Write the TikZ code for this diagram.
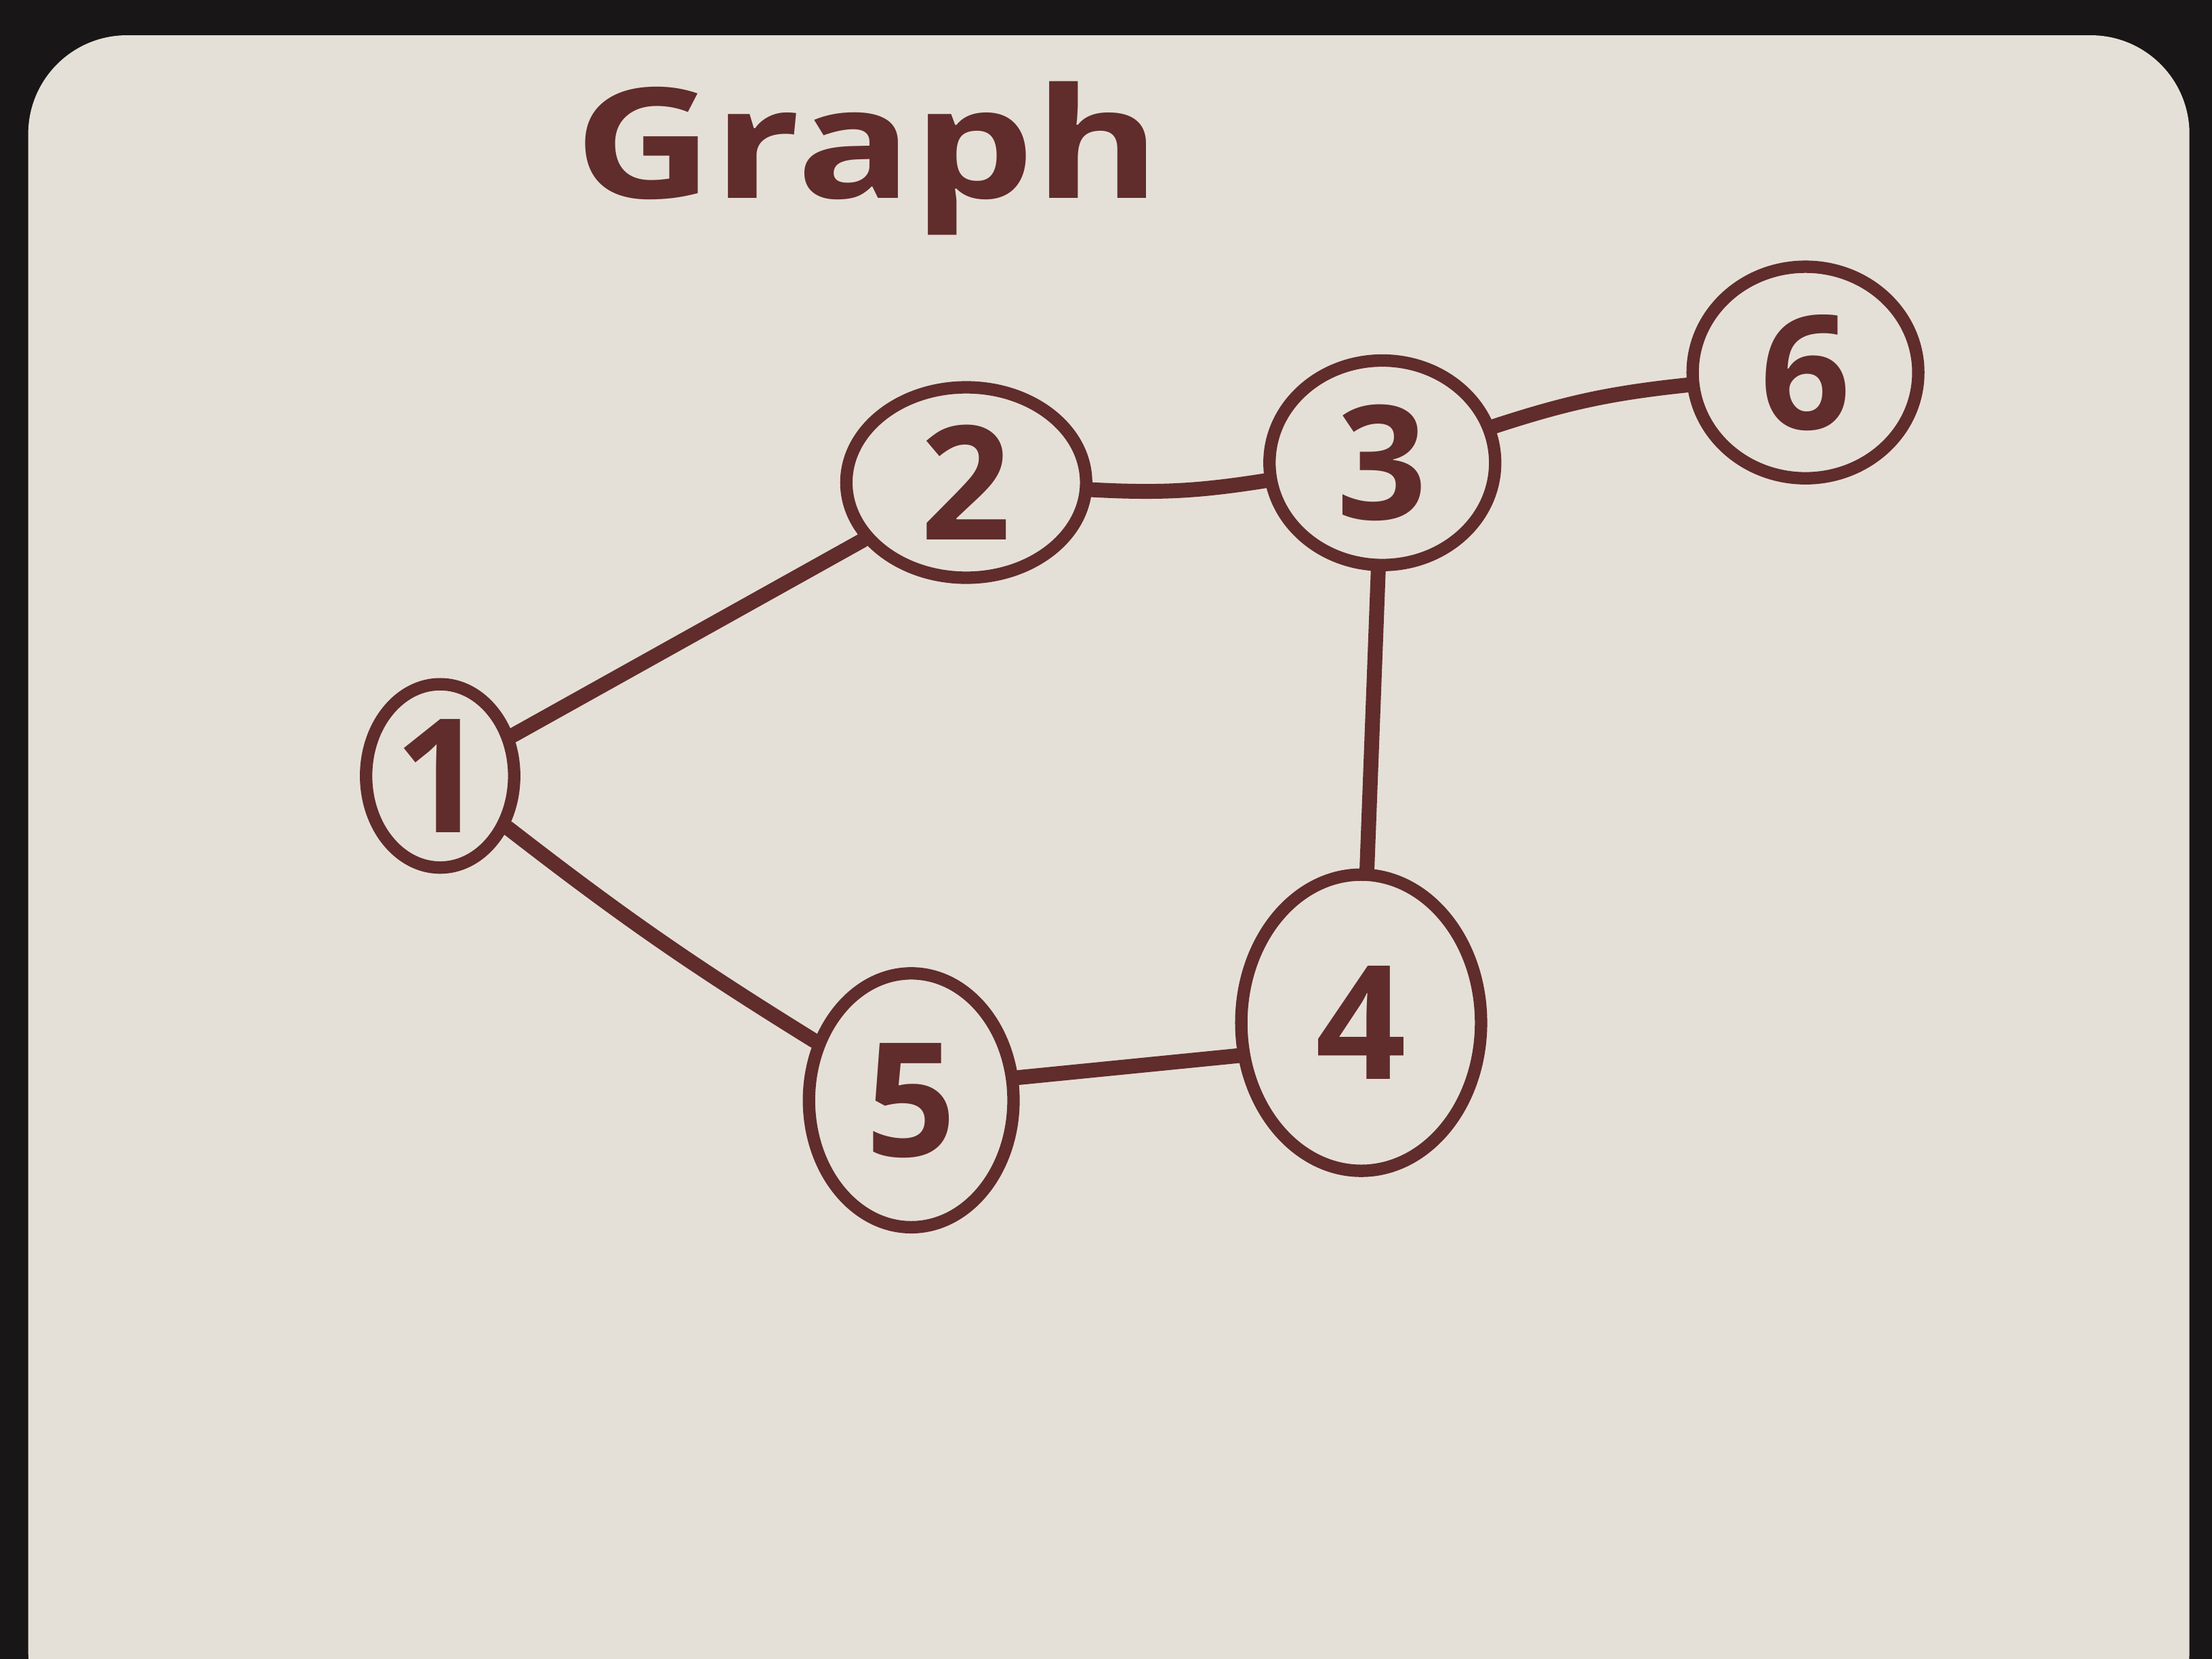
\documentclass[tikz,border=0pt]{standalone}
\usepackage{fontspec}
\setsansfont{Open Sans}
\usetikzlibrary{positioning,shapes.geometric}
\definecolor{ink}{RGB}{96,44,44}
\definecolor{board}{RGB}{229,224,215}
\definecolor{table}{RGB}{24,22,22}
\tikzset{
    vertex/.style = {
        draw=ink, ellipse, line width=5pt,
        text=ink, inner sep=0,
        font=\sffamily\bfseries\fontsize{64}{64}\selectfont
    },
    link/.style = {
        draw=ink, line width=6pt, line cap=round
    }
}

\begin{document}
\begin{tikzpicture}[x=0.02cm, y=-0.02cm, node distance=2cm, on grid]

\useasboundingbox (0,0) rectangle (1568,1176);
\clip (0,0) rectangle (1568,1176);
\fill[table] (0,0) rectangle (1568,1176);
\fill[board, rounded corners=1.4cm] (20,25) rectangle (1552,1240);

\node[text=ink, font=\sffamily\bfseries\fontsize{62}{62}\selectfont] (Title) at (615,112) {\scalebox{1.25}[1]{Graph}};

\node[vertex, minimum width=2.1cm, minimum height=2.6cm] (N1) at (312,550) {1};
\node[vertex, minimum width=3.4cm, minimum height=2.7cm, above right=4.16cm and 7.46cm of N1] (N2) {2};
\node[vertex, minimum width=3.2cm, minimum height=2.9cm, above right=0.28cm and 5.9cm of N2] (N3) {3};
\node[vertex, minimum width=3.2cm, minimum height=3.0cm, above right=1.28cm and 6cm of N3] (N6) {6};
\node[vertex, minimum width=3.4cm, minimum height=4.2cm, below left=7.94cm and 0.3cm of N3] (N4) {4};
\node[vertex, minimum width=2.9cm, minimum height=3.6cm, below left=1.1cm and 6.38cm of N4] (N5) {5};

\draw[link] (N1) -- (N2);
\draw[link] (N2) to[bend right=6] (N3);
\draw[link] (N3) to[bend left=6] (N6);
\draw[link] (N3) -- (N4);
\draw[link] (N5.12) -- (N4.195);
\draw[link] (N1) to[bend right=3] (N5);

\end{tikzpicture}
\end{document}
